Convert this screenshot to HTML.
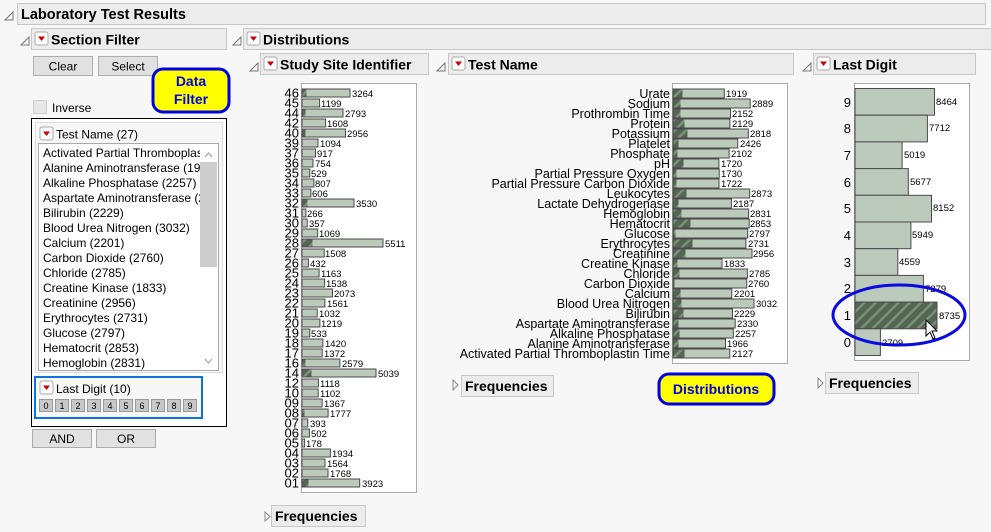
<!DOCTYPE html>
<html><head><meta charset="utf-8"><style>
html,body{margin:0;padding:0;background:#f7f7f7;}
svg{display:block;font-family:"Liberation Sans",sans-serif;}
.h{font-weight:bold;font-size:14px;fill:#000;}
.v{font-size:9.5px;fill:#000;}
.sl{font-size:13px;fill:#000;text-anchor:end;}
.tl{font-size:12.5px;fill:#000;text-anchor:end;}
.li{font-size:12px;fill:#000;}
.b{fill:#bccabb;stroke:#4a4a4a;stroke-width:1;}
</style></head><body>
<svg width="991" height="532" viewBox="0 0 991 532">
<defs>
<pattern id="hatch" width="8" height="8" patternUnits="userSpaceOnUse" patternTransform="rotate(45)">
<rect width="8" height="8" fill="#526652"/><rect width="2.5" height="8" fill="#7a907a"/></pattern>
<g id="tri"><rect x="0" y="0" width="13" height="13" rx="2" fill="#fff" stroke="#aaa"/><path d="M3 4.5 L10 4.5 L6.5 9 Z" fill="#c00"/></g>
</defs>
<rect width="991" height="532" fill="#f7f7f7"/>
<path d="M5 20 L13 12 L13 20 Z" fill="none" stroke="#777"/>
<rect x="17.5" y="3.5" width="968" height="21" fill="#ececec" stroke="#c8c8c8"/>
<text x="21" y="19" class="h" style="font-size:14.5px">Laboratory Test Results</text>
<path d="M21 45 L29 37 L29 45 Z" fill="none" stroke="#777"/>
<rect x="31.5" y="28.5" width="195" height="21" fill="#ececec" stroke="#c8c8c8"/>
<use href="#tri" x="35" y="32"/>
<text x="51" y="44.5" class="h">Section Filter</text>
<rect x="33.5" y="56.5" width="59" height="19" fill="#e1e1e1" stroke="#adadad"/>
<text x="63" y="70.5" font-size="12" text-anchor="middle">Clear</text>
<rect x="98.5" y="56.5" width="59" height="19" fill="#e1e1e1" stroke="#adadad"/>
<text x="128" y="70.5" font-size="12" text-anchor="middle">Select</text>
<rect x="33.5" y="100.5" width="13" height="13" fill="#e8e8e8" stroke="#ccc"/>
<text x="52" y="112" font-size="12">Inverse</text>
<rect x="153" y="69" width="76" height="43" rx="10" fill="#ffff00" stroke="#0000e6" stroke-width="3"/>
<text x="191" y="86" font-size="14" font-weight="bold" fill="#0000e6" text-anchor="middle">Data</text>
<text x="191" y="104" font-size="14" font-weight="bold" fill="#0000e6" text-anchor="middle">Filter</text>
<rect x="31.5" y="118.5" width="195" height="308" fill="#fff" stroke="#000"/>
<rect x="35.5" y="122.5" width="187" height="250" fill="#f7f7f7" stroke="#ddd"/>
<use href="#tri" x="40" y="127"/>
<text x="56" y="138.5" font-size="12">Test Name (27)</text>
<rect x="38.5" y="143.5" width="180" height="227" fill="#fff" stroke="#aaa"/>
<rect x="200" y="162" width="17" height="105" fill="#cdcdcd"/>
<path d="M205 157 L208.5 153 L212 157" fill="none" stroke="#999"/>
<path d="M205 359 L208.5 363 L212 359" fill="none" stroke="#999"/>
<svg x="38" y="143" width="162" height="227">
<g class="li">
<text x="5" y="14">Activated Partial Thromboplastin Time</text>
<text x="5" y="29">Alanine Aminotransferase (1966)</text>
<text x="5" y="44">Alkaline Phosphatase (2257)</text>
<text x="5" y="59">Aspartate Aminotransferase (2330)</text>
<text x="5" y="74">Bilirubin (2229)</text>
<text x="5" y="89">Blood Urea Nitrogen (3032)</text>
<text x="5" y="104">Calcium (2201)</text>
<text x="5" y="119">Carbon Dioxide (2760)</text>
<text x="5" y="134">Chloride (2785)</text>
<text x="5" y="149">Creatine Kinase (1833)</text>
<text x="5" y="164">Creatinine (2956)</text>
<text x="5" y="179">Erythrocytes (2731)</text>
<text x="5" y="194">Glucose (2797)</text>
<text x="5" y="209">Hematocrit (2853)</text>
<text x="5" y="224">Hemoglobin (2831)</text>
</g></svg>
<rect x="35" y="377" width="167" height="41" fill="#f7f7f7" stroke="#0a74da" stroke-width="2"/>
<use href="#tri" x="40" y="381"/>
<text x="56" y="393" font-size="12">Last Digit (10)</text>
<g font-size="9" text-anchor="middle">
<rect x="39.5" y="399.5" width="13" height="12" fill="#c8c8c8" stroke="#999"/><text x="46" y="409">0</text>
<rect x="55.5" y="399.5" width="13" height="12" fill="#c8c8c8" stroke="#999"/><text x="62" y="409">1</text>
<rect x="71.5" y="399.5" width="13" height="12" fill="#c8c8c8" stroke="#999"/><text x="78" y="409">2</text>
<rect x="87.5" y="399.5" width="13" height="12" fill="#c8c8c8" stroke="#999"/><text x="94" y="409">3</text>
<rect x="103.5" y="399.5" width="13" height="12" fill="#c8c8c8" stroke="#999"/><text x="110" y="409">4</text>
<rect x="119.5" y="399.5" width="13" height="12" fill="#c8c8c8" stroke="#999"/><text x="126" y="409">5</text>
<rect x="135.5" y="399.5" width="13" height="12" fill="#c8c8c8" stroke="#999"/><text x="142" y="409">6</text>
<rect x="151.5" y="399.5" width="13" height="12" fill="#c8c8c8" stroke="#999"/><text x="158" y="409">7</text>
<rect x="167.5" y="399.5" width="13" height="12" fill="#c8c8c8" stroke="#999"/><text x="174" y="409">8</text>
<rect x="183.5" y="399.5" width="13" height="12" fill="#c8c8c8" stroke="#999"/><text x="190" y="409">9</text>
</g>
<rect x="32.5" y="429.5" width="59" height="18" fill="#e1e1e1" stroke="#adadad"/>
<text x="62" y="443" font-size="12" text-anchor="middle">AND</text>
<rect x="96.5" y="429.5" width="59" height="18" fill="#e1e1e1" stroke="#adadad"/>
<text x="126" y="443" font-size="12" text-anchor="middle">OR</text>

<path d="M233 45 L241 37 L241 45 Z" fill="none" stroke="#777"/>
<rect x="243.5" y="28.5" width="750" height="21" fill="#ececec" stroke="#c8c8c8"/>
<use href="#tri" x="247" y="32"/>
<text x="263" y="44.5" class="h">Distributions</text>

<path d="M250 71 L258 63 L258 71 Z" fill="none" stroke="#777"/>
<rect x="260.5" y="53.5" width="168" height="21" fill="#ececec" stroke="#c8c8c8"/>
<use href="#tri" x="264" y="57"/>
<text x="280" y="69.5" class="h">Study Site Identifier</text>
<path d="M437 71 L445 63 L445 71 Z" fill="none" stroke="#777"/>
<rect x="448.5" y="53.5" width="345" height="21" fill="#ececec" stroke="#c8c8c8"/>
<use href="#tri" x="452" y="57"/>
<text x="468" y="69.5" class="h">Test Name</text>
<path d="M803 71 L811 63 L811 71 Z" fill="none" stroke="#777"/>
<rect x="813.5" y="53.5" width="162" height="21" fill="#ececec" stroke="#c8c8c8"/>
<use href="#tri" x="817" y="57"/>
<text x="833" y="69.5" class="h">Last Digit</text>

<rect x="301.5" y="83.5" width="115" height="409" fill="#fff" stroke="#aaa"/>
<g>
<rect class="b" x="302" y="89" width="48" height="8"/><rect class="b" x="302" y="99" width="17.6" height="8"/><rect class="b" x="302" y="109" width="41" height="8"/><rect class="b" x="302" y="119" width="23.6" height="8"/><rect class="b" x="302" y="129" width="43.5" height="8"/>
<rect class="b" x="302" y="139" width="16" height="8"/><rect class="b" x="302" y="149" width="13.5" height="8"/><rect class="b" x="302" y="159" width="11" height="8"/><rect class="b" x="302" y="169" width="7.8" height="8"/><rect class="b" x="302" y="179" width="11.9" height="8"/>
<rect class="b" x="302" y="189" width="8.9" height="8"/><rect class="b" x="302" y="199" width="52" height="8"/><rect class="b" x="302" y="209" width="3.9" height="8"/><rect class="b" x="302" y="219" width="5.2" height="8"/><rect class="b" x="302" y="229" width="15.7" height="8"/>
<rect class="b" x="302" y="239" width="81" height="8"/><rect class="b" x="302" y="249" width="22.2" height="8"/><rect class="b" x="302" y="259" width="6.4" height="8"/><rect class="b" x="302" y="269" width="17.1" height="8"/><rect class="b" x="302" y="279" width="22.6" height="8"/>
<rect class="b" x="302" y="289" width="30.5" height="8"/><rect class="b" x="302" y="299" width="22.9" height="8"/><rect class="b" x="302" y="309" width="15.2" height="8"/><rect class="b" x="302" y="319" width="17.9" height="8"/><rect class="b" x="302" y="329" width="7.8" height="8"/>
<rect class="b" x="302" y="339" width="20.9" height="8"/><rect class="b" x="302" y="349" width="20.2" height="8"/><rect class="b" x="302" y="359" width="37.9" height="8"/><rect class="b" x="302" y="369" width="74" height="8"/><rect class="b" x="302" y="379" width="16.4" height="8"/>
<rect class="b" x="302" y="389" width="16.2" height="8"/><rect class="b" x="302" y="399" width="20.1" height="8"/><rect class="b" x="302" y="409" width="26.1" height="8"/><rect class="b" x="302" y="419" width="5.8" height="8"/><rect class="b" x="302" y="429" width="7.4" height="8"/>
<rect class="b" x="302" y="439" width="2.6" height="8"/><rect class="b" x="302" y="449" width="28.4" height="8"/><rect class="b" x="302" y="459" width="23" height="8"/><rect class="b" x="302" y="469" width="26" height="8"/><rect class="b" x="302" y="479" width="57.7" height="8"/>
</g>
<g fill="url(#hatch)">
<rect x="302.5" y="89.5" width="4" height="7"/><rect x="302.5" y="109.5" width="3" height="7"/><rect x="302.5" y="129.5" width="3" height="7"/><rect x="302.5" y="199.5" width="5" height="7"/><rect x="302.5" y="239.5" width="10" height="7"/><rect x="302.5" y="359.5" width="3" height="7"/><rect x="302.5" y="369.5" width="9" height="7"/><rect x="302.5" y="479.5" width="6" height="7"/><rect x="302.5" y="409.5" width="2" height="7"/>
</g>
<g class="sl">
<text x="299" y="97.5">46</text><text x="299" y="107.5">45</text><text x="299" y="117.5">44</text><text x="299" y="127.5">42</text><text x="299" y="137.5">40</text>
<text x="299" y="147.5">39</text><text x="299" y="157.5">37</text><text x="299" y="167.5">36</text><text x="299" y="177.5">35</text><text x="299" y="187.5">34</text>
<text x="299" y="197.5">33</text><text x="299" y="207.5">32</text><text x="299" y="217.5">31</text><text x="299" y="227.5">30</text><text x="299" y="237.5">29</text>
<text x="299" y="247.5">28</text><text x="299" y="257.5">27</text><text x="299" y="267.5">26</text><text x="299" y="277.5">25</text><text x="299" y="287.5">24</text>
<text x="299" y="297.5">23</text><text x="299" y="307.5">22</text><text x="299" y="317.5">21</text><text x="299" y="327.5">20</text><text x="299" y="337.5">19</text>
<text x="299" y="347.5">18</text><text x="299" y="357.5">17</text><text x="299" y="367.5">16</text><text x="299" y="377.5">14</text><text x="299" y="387.5">12</text>
<text x="299" y="397.5">10</text><text x="299" y="407.5">09</text><text x="299" y="417.5">08</text><text x="299" y="427.5">07</text><text x="299" y="437.5">06</text>
<text x="299" y="447.5">05</text><text x="299" y="457.5">04</text><text x="299" y="467.5">03</text><text x="299" y="477.5">02</text><text x="299" y="487.5">01</text>
</g>
<g class="v">
<text x="352" y="97">3264</text><text x="321" y="107">1199</text><text x="345" y="117">2793</text><text x="327" y="127">1608</text><text x="347" y="137">2956</text>
<text x="320" y="147">1094</text><text x="317" y="157">917</text><text x="315" y="167">754</text><text x="311" y="177">529</text><text x="315" y="187">807</text>
<text x="312" y="197">606</text><text x="356" y="207">3530</text><text x="307" y="217">266</text><text x="309" y="227">357</text><text x="319" y="237">1069</text>
<text x="385" y="247">5511</text><text x="325" y="257">1508</text><text x="310" y="267">432</text><text x="321" y="277">1163</text><text x="326" y="287">1538</text>
<text x="334" y="297">2073</text><text x="327" y="307">1561</text><text x="319" y="317">1032</text><text x="321" y="327">1219</text><text x="311" y="337">533</text>
<text x="325" y="347">1420</text><text x="324" y="357">1372</text><text x="342" y="367">2579</text><text x="378" y="377">5039</text><text x="320" y="387">1118</text>
<text x="320" y="397">1102</text><text x="324" y="407">1367</text><text x="330" y="417">1777</text><text x="310" y="427">393</text><text x="311" y="437">502</text>
<text x="306" y="447">178</text><text x="332" y="457">1934</text><text x="327" y="467">1564</text><text x="330" y="477">1768</text><text x="362" y="487">3923</text>
</g>
<path d="M265 512 L265 521 L270 516.5 Z" fill="none" stroke="#888"/>
<rect x="271.5" y="505.5" width="94" height="21" fill="#ececec" stroke="#c8c8c8"/>
<text x="275" y="521" class="h">Frequencies</text>

<rect x="672.5" y="83.5" width="115" height="280" fill="#fff" stroke="#aaa"/>
<g>
<rect class="b" x="673" y="89" width="51.3" height="9"/><rect class="b" x="673" y="99" width="77.2" height="9"/><rect class="b" x="673" y="109" width="57.5" height="9"/><rect class="b" x="673" y="119" width="56.9" height="9"/><rect class="b" x="673" y="129" width="75.3" height="9"/>
<rect class="b" x="673" y="139" width="64.8" height="9"/><rect class="b" x="673" y="149" width="56.1" height="9"/><rect class="b" x="673" y="159" width="45.9" height="9"/><rect class="b" x="673" y="169" width="46.2" height="9"/><rect class="b" x="673" y="179" width="46" height="9"/>
<rect class="b" x="673" y="189" width="76.7" height="9"/><rect class="b" x="673" y="199" width="58.4" height="9"/><rect class="b" x="673" y="209" width="75.6" height="9"/><rect class="b" x="673" y="219" width="76.2" height="9"/><rect class="b" x="673" y="229" width="74.7" height="9"/>
<rect class="b" x="673" y="239" width="72.9" height="9"/><rect class="b" x="673" y="249" width="79" height="9"/><rect class="b" x="673" y="259" width="49" height="9"/><rect class="b" x="673" y="269" width="74.4" height="9"/><rect class="b" x="673" y="279" width="73.7" height="9"/>
<rect class="b" x="673" y="289" width="58.8" height="9"/><rect class="b" x="673" y="299" width="81" height="9"/><rect class="b" x="673" y="309" width="59.5" height="9"/><rect class="b" x="673" y="319" width="62.2" height="9"/><rect class="b" x="673" y="329" width="60.3" height="9"/>
<rect class="b" x="673" y="339" width="52.5" height="9"/><rect class="b" x="673" y="349" width="56.8" height="9"/>
</g>
<g fill="url(#hatch)">
<rect x="673.5" y="89.5" width="9" height="8"/><rect x="673.5" y="99.5" width="7" height="8"/><rect x="673.5" y="109.5" width="7" height="8"/><rect x="673.5" y="119.5" width="11" height="8"/><rect x="673.5" y="129.5" width="14" height="8"/>
<rect x="673.5" y="139.5" width="5" height="8"/><rect x="673.5" y="149.5" width="4" height="8"/><rect x="673.5" y="159.5" width="10" height="8"/><rect x="673.5" y="169.5" width="3" height="8"/><rect x="673.5" y="179.5" width="3" height="8"/>
<rect x="673.5" y="189.5" width="13" height="8"/><rect x="673.5" y="199.5" width="5" height="8"/><rect x="673.5" y="209.5" width="8" height="8"/><rect x="673.5" y="219.5" width="17" height="8"/><rect x="673.5" y="229.5" width="2" height="8"/>
<rect x="673.5" y="239.5" width="19" height="8"/><rect x="673.5" y="249.5" width="12" height="8"/><rect x="673.5" y="259.5" width="4" height="8"/><rect x="673.5" y="269.5" width="6" height="8"/><rect x="673.5" y="279.5" width="1" height="8"/>
<rect x="673.5" y="289.5" width="7" height="8"/><rect x="673.5" y="299.5" width="8" height="8"/><rect x="673.5" y="309.5" width="10" height="8"/><rect x="673.5" y="319.5" width="5" height="8"/><rect x="673.5" y="329.5" width="6" height="8"/>
<rect x="673.5" y="339.5" width="5" height="8"/><rect x="673.5" y="349.5" width="11" height="8"/>
</g>
<g class="tl">
<text x="670" y="98">Urate</text><text x="670" y="108">Sodium</text><text x="670" y="118">Prothrombin Time</text><text x="670" y="128">Protein</text><text x="670" y="138">Potassium</text>
<text x="670" y="148">Platelet</text><text x="670" y="158">Phosphate</text><text x="670" y="168">pH</text><text x="670" y="178">Partial Pressure Oxygen</text><text x="670" y="188">Partial Pressure Carbon Dioxide</text>
<text x="670" y="198">Leukocytes</text><text x="670" y="208">Lactate Dehydrogenase</text><text x="670" y="218">Hemoglobin</text><text x="670" y="228">Hematocrit</text><text x="670" y="238">Glucose</text>
<text x="670" y="248">Erythrocytes</text><text x="670" y="258">Creatinine</text><text x="670" y="268">Creatine Kinase</text><text x="670" y="278">Chloride</text><text x="670" y="288">Carbon Dioxide</text>
<text x="670" y="298">Calcium</text><text x="670" y="308">Blood Urea Nitrogen</text><text x="670" y="318">Bilirubin</text><text x="670" y="328">Aspartate Aminotransferase</text><text x="670" y="338">Alkaline Phosphatase</text>
<text x="670" y="348">Alanine Aminotransferase</text><text x="670" y="358">Activated Partial Thromboplastin Time</text>
</g>
<g class="v">
<text x="726" y="97">1919</text><text x="752" y="107">2889</text><text x="732" y="117">2152</text><text x="732" y="127">2129</text><text x="750" y="137">2818</text>
<text x="740" y="147">2426</text><text x="731" y="157">2102</text><text x="721" y="167">1720</text><text x="721" y="177">1730</text><text x="721" y="187">1722</text>
<text x="751" y="197">2873</text><text x="733" y="207">2187</text><text x="750" y="217">2831</text><text x="750" y="227">2853</text><text x="749" y="237">2797</text>
<text x="748" y="247">2731</text><text x="753" y="257">2956</text><text x="724" y="267">1833</text><text x="749" y="277">2785</text><text x="748" y="287">2760</text>
<text x="734" y="297">2201</text><text x="756" y="307">3032</text><text x="734" y="317">2229</text><text x="737" y="327">2330</text><text x="735" y="337">2257</text>
<text x="727" y="347">1966</text><text x="732" y="357">2127</text>
</g>
<path d="M453 380 L453 390 L458 385 Z" fill="none" stroke="#888"/>
<rect x="461.5" y="375.5" width="92" height="21" fill="#ececec" stroke="#c8c8c8"/>
<text x="465" y="391" class="h">Frequencies</text>
<rect x="659" y="374" width="115" height="30" rx="10" fill="#ffff00" stroke="#0000e6" stroke-width="3"/>
<text x="716" y="394" font-size="14" font-weight="bold" fill="#0000e6" text-anchor="middle">Distributions</text>

<rect x="854.5" y="83.5" width="115" height="277" fill="#fff" stroke="#aaa"/>
<g>
<rect class="b" x="855" y="88.5" width="79.5" height="26.7"/>
<rect class="b" x="855" y="115.2" width="72.4" height="26.7"/>
<rect class="b" x="855" y="141.9" width="47.1" height="26.7"/>
<rect class="b" x="855" y="168.6" width="53.3" height="26.7"/>
<rect class="b" x="855" y="195.3" width="76.5" height="26.7"/>
<rect class="b" x="855" y="222" width="55.9" height="26.7"/>
<rect class="b" x="855" y="248.7" width="42.8" height="26.7"/>
<rect class="b" x="855" y="275.4" width="68.4" height="26.7"/>
<rect x="855" y="302.1" width="82" height="26.7" fill="url(#hatch)" stroke="#4a4a4a"/>
<rect class="b" x="855" y="328.8" width="25.4" height="26.7"/>
</g>
<g font-size="13" text-anchor="end">
<text x="851" y="107">9</text><text x="851" y="133">8</text><text x="851" y="160">7</text><text x="851" y="187">6</text><text x="851" y="213">5</text>
<text x="851" y="240">4</text><text x="851" y="267">3</text><text x="851" y="293">2</text><text x="851" y="320">1</text><text x="851" y="347">0</text>
</g>
<g class="v">
<text x="936" y="105">8464</text><text x="929" y="131">7712</text><text x="904" y="158">5019</text><text x="910" y="185">5677</text><text x="933" y="211">8152</text>
<text x="912" y="238">5949</text><text x="899" y="265">4559</text><text x="925" y="292">7279</text><text x="939" y="319">8735</text><text x="882" y="346">2709</text>
</g>
<ellipse cx="899" cy="315" rx="66" ry="30" fill="none" stroke="#0a0ae0" stroke-width="3"/>
<path d="M926 320 L926 336 L930 332 L933 339 L935 338 L932 331 L937 331 Z" fill="#fff" stroke="#000" stroke-width="1"/>
<path d="M818 378 L818 388 L823 383 Z" fill="none" stroke="#888"/>
<rect x="825.5" y="372.5" width="93" height="21" fill="#ececec" stroke="#c8c8c8"/>
<text x="829" y="388" class="h">Frequencies</text>
</svg>
</body></html>
